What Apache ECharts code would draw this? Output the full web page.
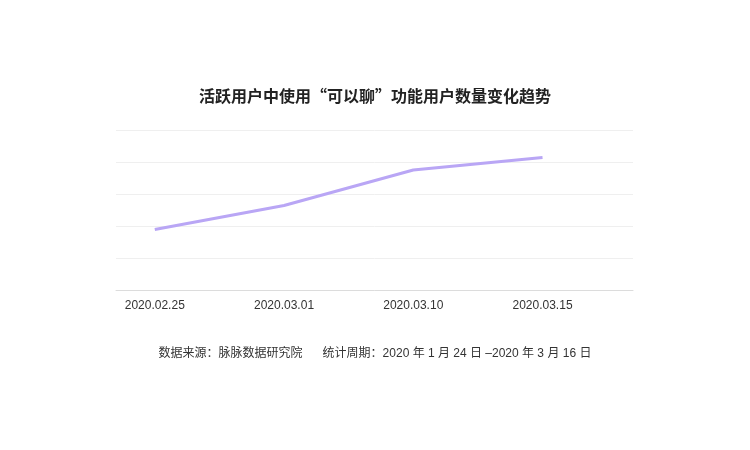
<!DOCTYPE html>
<html>
<head>
<meta charset="utf-8">
<script src="https://cdn.jsdelivr.net/npm/echarts@6/dist/echarts.min.js"></script>
<style>
  html, body { margin: 0; padding: 0; background: #fff; }
  #chart { width: 750px; height: 450px; }
</style>
</head>
<body>
<div id="chart"></div>
<script>
  // categories and values
  var dates = ['2020.02.25', '2020.03.01', '2020.03.10', '2020.03.15'];
  var users = [18.9, 26.4, 37.5, 41.4];
  var yTicks = [0, 10, 20, 30, 40, 50];

  var points = users.map(function (v, i) { return [i, v]; });

  var option = {
    animation: false,
    title: [{
      text: '活跃用户中使用“可以聊”功能用户数量变化趋势',
      left: 'center',
      top: 83,
      textStyle: {
        fontFamily: 'Noto Sans CJK SC',
        fontSize: 16,
        fontWeight: 'bold',
        color: '#222'
      }
    }, {
      text: '数据来源：脉脉数据研究院      统计周期：2020 年 1 月 24 日 –2020 年 3 月 16 日',
      left: 'center',
      top: 343,
      textStyle: {
        fontFamily: '"Liberation Sans", "Noto Sans CJK SC"',
        fontSize: 12,
        fontWeight: 'normal',
        color: '#333'
      }
    }],
    grid: {
      top: 130,
      bottom: 160,
      left: 116,
      right: 117
    },
    xAxis: {
      type: 'value',
      min: -0.3,
      max: 3.7,
      splitLine: { show: false },
      axisTick: { show: false },
      axisLine: { show: true, lineStyle: { color: '#dcdcdc', width: 1 } },
      axisLabel: {
        customValues: [0, 1, 2, 3],
        formatter: function (v) { return dates[Math.round(v)]; },
        margin: 10,
        fontFamily: 'Liberation Sans',
        fontSize: 12,
        color: '#333'
      }
    },
    yAxis: {
      type: 'value',
      min: yTicks[0],
      max: yTicks[yTicks.length - 1],
      interval: 10,
      axisLabel: { show: false },
      axisTick: { show: false },
      axisLine: { show: false },
      splitLine: { lineStyle: { color: '#efefef', width: 1 } }
    },
    series: [{
      name: '用户数量',
      type: 'line',
      data: points,
      showSymbol: false,
      symbol: 'none',
      lineStyle: { color: '#b9a6f5', width: 3 }
    }]
  };

  var chart = echarts.init(document.getElementById('chart'));
  chart.setOption(option);
</script>
</body>
</html>
